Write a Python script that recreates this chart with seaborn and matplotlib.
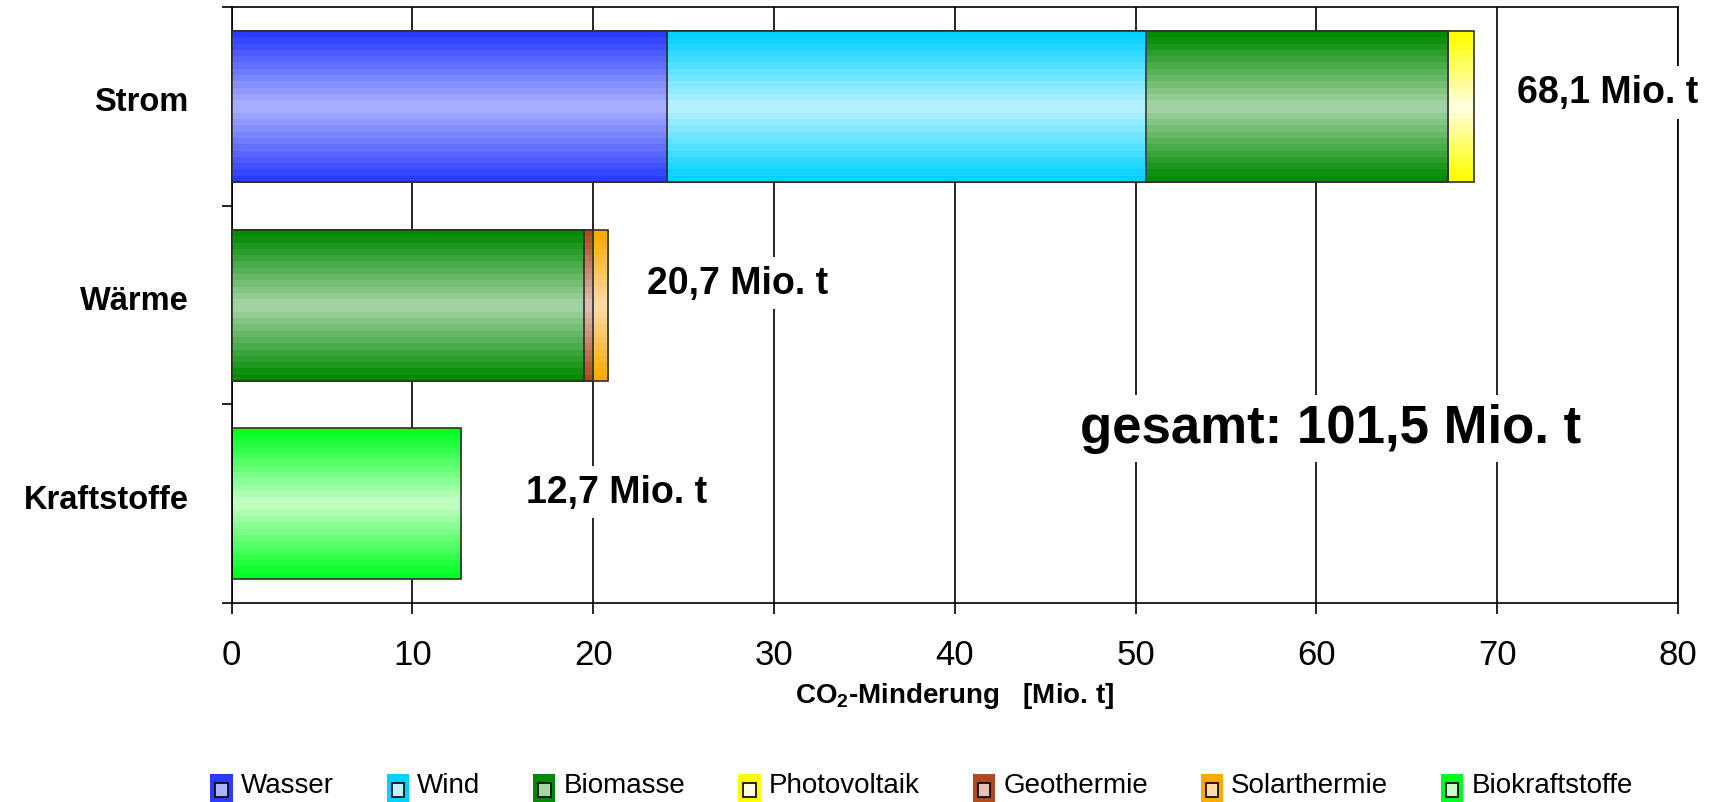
import numpy as np
import matplotlib
matplotlib.use("Agg")
import matplotlib.pyplot as plt
import seaborn as sns
import pandas as pd
from matplotlib.colors import LinearSegmentedColormap
from matplotlib.patches import Patch, Rectangle
from matplotlib.legend_handler import HandlerBase

# Daten (CO2-Minderung in Mio. t)
bereiche = ["Strom", "Wärme", "Kraftstoffe"]
quellen = ["Wasser", "Wind", "Biomasse", "Photovoltaik", "Geothermie", "Solarthermie", "Biokraftstoffe"]
strom = {"Wasser": 24.1, "Wind": 26.5, "Biomasse": 16.7, "Photovoltaik": 1.4}
waerme = {"Biomasse": 19.5, "Geothermie": 0.5, "Solarthermie": 0.8}
kraftstoffe = {"Biokraftstoffe": 12.7}
summen_text = ["68,1 Mio. t", "20,7 Mio. t", "12,7 Mio. t"]
gesamt_text = "gesamt: 101,5 Mio. t"

# Farben: (Rand dunkel, Mitte hell)
farben = {
    "Wasser": ("#2a3cff", "#aeb3ff"),
    "Wind": ("#00d2ff", "#bdf3ff"),
    "Biomasse": ("#008a00", "#a9d6a9"),
    "Photovoltaik": ("#ffff00", "#ffffe2"),
    "Geothermie": ("#b04a1c", "#e2c2b4"),
    "Solarthermie": ("#ffaa00", "#ffdca6"),
    "Biokraftstoffe": ("#00ff20", "#c8ffc8"),
}

rows = []
for b, d in zip(bereiche, [strom, waerme, kraftstoffe]):
    for q in quellen:
        if q in d:
            rows.append((b, q, d[q]))
df = pd.DataFrame(rows, columns=["Bereich", "Quelle", "Wert"])
df["Kum"] = df.groupby("Bereich")["Wert"].cumsum()

sns.set_theme(style="white")
plt.rcParams["font.family"] = ["Liberation Sans", "DejaVu Sans"]
plt.rcParams["mathtext.fontset"] = "custom"
plt.rcParams["mathtext.rm"] = "Liberation Sans"
plt.rcParams["mathtext.bf"] = "Liberation Sans:bold"
for key in ["text.color", "axes.labelcolor", "xtick.color", "ytick.color"]:
    plt.rcParams[key] = "black"

fig = plt.figure(figsize=(17.1, 8.03), dpi=100)
ax = fig.add_axes([0.1354, 0.2478, 0.9813 - 0.1354, 0.99 - 0.2478])

# Gitter hinter den Balken
ax.set_axisbelow(True)
ax.grid(axis="x", color="black", linewidth=1.2)
ax.grid(axis="y", visible=False)

n_rows = 24
t = np.abs(np.linspace(-1, 1, n_rows))[:, None]

# gestapelt: groesste kumulierte Summe zuerst, dann darueber
reihenfolge = list(reversed(quellen))
k = 0
for q in reihenfolge:
    sub = df[df["Quelle"] == q]
    if sub.empty:
        continue
    before = len(ax.patches)
    sns.barplot(data=sub, x="Kum", y="Bereich", order=bereiche, orient="h",
                color=farben[q][0], width=0.76, ax=ax)
    new = ax.patches[before:]
    dark, light = farben[q]
    cmap = LinearSegmentedColormap.from_list(q, [light, dark])
    z = 2 + k * 0.5
    for p in new:
        if p.get_width() <= 0:
            continue
        x0, y0, w, h = p.get_x(), p.get_y(), p.get_width(), p.get_height()
        im = ax.imshow(t, cmap=cmap, vmin=0, vmax=1, aspect="auto",
                       interpolation="nearest",
                       extent=(x0, x0 + w, y0 + h, y0), zorder=z)
        im.set_clip_path(p)
        p.set_facecolor("none")
        p.set_edgecolor("#303030")
        p.set_linewidth(1.2)
        p.set_zorder(z + 0.2)
    k += 1

ax.set_xlim(0, 80)
ax.set_ylim(2.5, -0.5)
ax.set_xticks(np.arange(0, 81, 10))
ax.tick_params(axis="x", labelsize=25, length=8, width=1.2, color="black",
               direction="out", pad=17, bottom=True)
ax.set_yticks([-0.5, 0.5, 1.5, 2.5])
ax.set_yticklabels([])
ax.tick_params(axis="y", which="major", length=7, width=1.2, color="black",
               direction="out", left=True)
ax.set_yticks(np.arange(len(bereiche)) - 0.04, minor=True)
ax.set_yticklabels(bereiche, minor=True, fontsize=23.5, fontweight="bold")
ax.tick_params(axis="y", which="minor", length=0, pad=31)
ax.set_ylabel("")
ax.set_xlabel(r"CO$_\mathbf{2}$-Minderung   [Mio. t]", fontsize=20,
              fontweight="bold", labelpad=7)
for s in ax.spines.values():
    s.set_visible(True)
    s.set_color("black")
    s.set_linewidth(1.2)

# Summen
label_x = [76.1, 28.0, 21.3]
label_dy = [-0.07, -0.11, -0.06]
for i, txt in enumerate(summen_text):
    ax.text(label_x[i], i + label_dy[i], txt, ha="center", va="center",
            fontsize=27, fontweight="bold", zorder=10,
            bbox=dict(facecolor="white", edgecolor="none", pad=6))
ax.text(60.8, 1.62, gesamt_text, ha="center", va="center", fontsize=38,
        fontweight="bold", zorder=10,
        bbox=dict(facecolor="white", edgecolor="none", pad=6))


class GradHandler(HandlerBase):
    def create_artists(self, legend, orig_handle, xdescent, ydescent,
                       width, height, fontsize, trans):
        dark = orig_handle.get_facecolor()
        light = orig_handle.get_edgecolor()
        outer = Rectangle((-xdescent, -ydescent - 0.45 * height), width, height * 1.3,
                          facecolor=dark, edgecolor="none", transform=trans)
        inner = Rectangle((-xdescent + width * 0.22, -ydescent - 0.15 * height),
                          width * 0.56, height * 0.6, facecolor=light,
                          edgecolor="black", linewidth=1.2, transform=trans)
        return [outer, inner]


handles = [Patch(facecolor=farben[q][0], edgecolor=farben[q][1]) for q in quellen]
fig.legend(handles, quellen, loc="center", bbox_to_anchor=(0.539, 0.022),
           ncol=7, frameon=False, fontsize=20, handlelength=0.8,
           handleheight=0.9, handletextpad=0.3, columnspacing=1.9,
           handler_map={Patch: GradHandler()})

fig.savefig("out.png", dpi=100, facecolor="white")
